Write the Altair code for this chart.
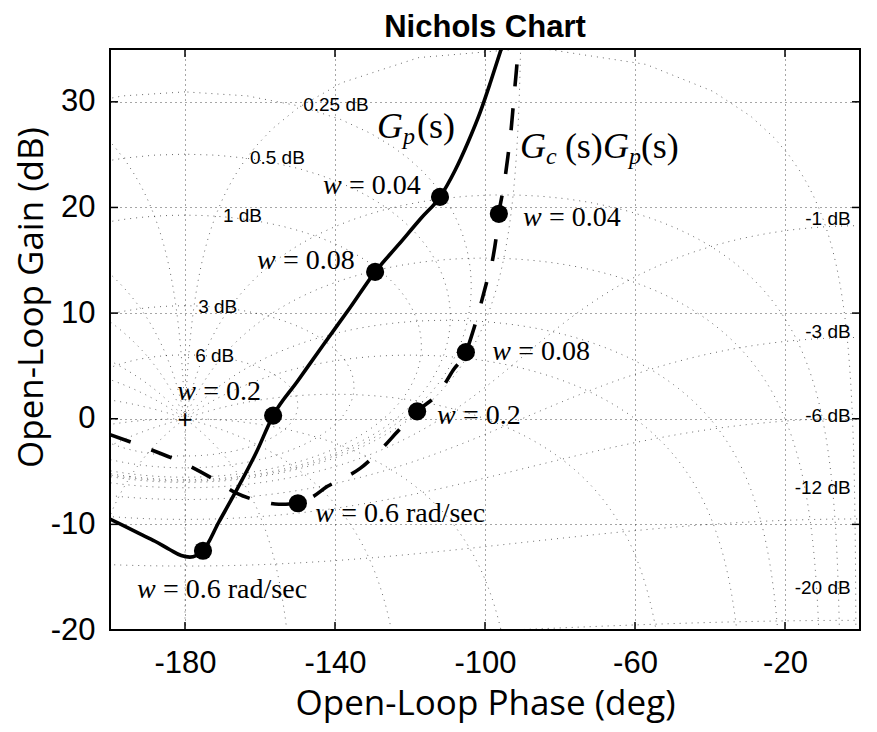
import numpy as np
import pandas as pd
import altair as alt

# ---------------- axes ----------------
X_DOMAIN = [-200, 0]
Y_DOMAIN = [-20, 35]
x_ticks = [-180, -140, -100, -60, -20]
y_ticks = [-20, -10, 0, 10, 20, 30]

# ---------------- open-loop curves ----------------
gp_phase = [-200, -196, -192, -188, -184, -181, -178.7, -175.2, -171, -166, -161, -156.5,
            -150, -143, -136, -129.3, -123, -117, -112, -108, -104.5, -101.3, -98.5, -95.5]
gp_gain = [-9.5, -10.2, -10.9, -11.6, -12.4, -12.95, -13.1, -12.5, -9.8, -6.6, -3.2, 0.3,
           3.55, 7.05, 10.5, 13.9, 16.5, 19.0, 21.0, 23.5, 26.2, 29.0, 31.9, 35.2]

gc_phase = [-200, -190, -178.7, -172, -166, -160, -155, -149.9, -146, -142, -137.5, -133.3,
            -128, -123, -118.1, -112, -108.5, -105.1, -103, -101.3, -99.5, -97.9, -96.9,
            -96.3, -95, -93.9, -93, -92.5, -92, -91.5, -91.2]
gc_gain = [-1.5, -2.8, -4.5, -5.8, -7.1, -7.8, -8.1, -8.0, -7.4, -6.4, -5.6, -4.7,
           -3.0, -1.1, 0.7, 2.6, 4.6, 6.3, 8.5, 10.6, 13.0, 15.2, 17.5,
           19.4, 22.0, 24.8, 27.5, 29.5, 31.5, 33.5, 35.0]

# frequency markers
w_text = ["0.6 rad/sec", "0.2", "0.08", "0.04"]
gp_mark_phase = [-175.2, -156.5, -129.3, -112.0]
gp_mark_gain = [-12.5, 0.3, 13.9, 21.0]
gc_mark_phase = [-149.9, -118.1, -105.1, -96.3]
gc_mark_gain = [-8.0, 0.7, 6.3, 19.4]

# frequency label anchors
gp_lab_phase = [-192.8, -182.1, -160.8, -143.2]
gp_lab_gain = [-16.2, 2.5, 14.9, 22.0]
gc_lab_phase = [-145.3, -112.8, -98.1, -89.9]
gc_lab_gain = [-9.0, 0.3, 6.3, 19.0]

# curve name anchors
gp_name_phase, gp_name_gain = -128.8, 27.6
gc_name_phase, gc_name_gain = -90.7, 25.7

# ---------------- Nichols grid ----------------
m_levels = [6, 3, 1, 0.5, 0.25, 0, -1, -3, -6, -12, -20]
n_levels = [-1, -5, -10, -20, -30, -50, -90, -120, -150, -180,
            -210, -240, -270, -310, -330, -340, -350, -355, -359]

m_lab_left = ["0.25 dB", "0.5 dB", "1 dB", "3 dB", "6 dB"]
m_lab_left_phase = [-148.5, -162.7, -169.9, -176.5, -177.3]
m_lab_left_gain = [29.7, 24.7, 19.2, 10.6, 5.9]
m_lab_right = ["-1 dB", "-3 dB", "-6 dB", "-12 dB", "-20 dB"]
m_lab_right_phase = [-2.5, -2.5, -2.5, -2.5, -2.5]
m_lab_right_gain = [18.9, 8.2, 0.3, -6.6, -16.0]

rows = []
cid = 0
for m in m_levels:
    M = 10 ** (m / 20.0)
    if M > 1:
        th = np.deg2rad(np.linspace(0, 360, 721))
    else:
        th = np.deg2rad(np.linspace(0.05, 359.95, 1400))
    T = M * np.exp(1j * th)
    G = T / (1 - T)
    ph = np.mod(np.degrees(np.angle(G)), 360) - 360
    gn = 20 * np.log10(np.abs(G))
    for k, (p, g) in enumerate(zip(ph, gn)):
        if -45 < g < 45:
            rows.append((cid, k, p, g))
    cid += 1
r = np.logspace(-1.5, 2.5, 900)
for psi in n_levels:
    T = r * np.exp(1j * np.deg2rad(psi))
    G = T / (1 - T)
    ph = np.mod(np.degrees(np.angle(G)), 360) - 360
    gn = 20 * np.log10(np.abs(G))
    for k, (p, g) in enumerate(zip(ph, gn)):
        if -45 < g < 45:
            rows.append((cid, k, p, g))
    cid += 1
grid_df = pd.DataFrame(rows, columns=["cid", "ord", "phase", "gain"])

# ---------------- chart ----------------
W, H = 750, 581
SERIF = "Liberation Serif"
SANS = "Liberation Sans"
xs = alt.Scale(domain=X_DOMAIN, nice=False, zero=False)
ys = alt.Scale(domain=Y_DOMAIN, nice=False, zero=False)

x_axis = alt.Axis(values=x_ticks, grid=True, gridDash=[1, 4], gridColor="black",
                  gridOpacity=0.7, ticks=False, domain=False, labelFont=SANS,
                  labelFontSize=31, labelColor="black", labelPadding=18,
                  labelExpr="'' + datum.value",
                  labelFlush=False, title="Open-Loop Phase (deg)", titleFont="Open Sans",
                  titleFontSize=35, titleFontWeight="normal", titleColor="black",
                  titlePadding=8)
y_axis = alt.Axis(values=y_ticks, grid=True, gridDash=[1, 4], gridColor="black",
                  gridOpacity=0.7, ticks=False, domain=False, labelFont=SANS,
                  labelFontSize=31, labelColor="black", labelPadding=15,
                  labelExpr="'' + datum.value",
                  labelFlush=False, title="Open-Loop Gain (dB)", titleFont="Open Sans",
                  titleFontSize=35, titleFontWeight="normal", titleColor="black",
                  titleX=-79, titleY=248, titleAngle=270, titleBaseline="middle",
                  titleAlign="center")


def X():
    return alt.X("phase:Q", scale=xs, axis=x_axis)


def Y():
    return alt.Y("gain:Q", scale=ys, axis=y_axis)


layers = []

# grid contours
layers.append(
    alt.Chart(grid_df).mark_line(clip=True, color="black", strokeWidth=1,
                                 strokeDash=[1, 5], opacity=0.6)
    .encode(x=X(), y=Y(), detail="cid:N", order="ord:Q")
)

# inward ticks on all four sides
xt = pd.DataFrame({"phase": x_ticks})
yt = pd.DataFrame({"gain": y_ticks})
layers.append(alt.Chart(xt).mark_rule(color="black", strokeWidth=1.5)
              .encode(x=X(), y=alt.value(H), y2=alt.value(H - 8)))
layers.append(alt.Chart(xt).mark_rule(color="black", strokeWidth=1.5)
              .encode(x=X(), y=alt.value(0), y2=alt.value(8)))
layers.append(alt.Chart(yt).mark_rule(color="black", strokeWidth=1.5)
              .encode(y=Y(), x=alt.value(0), x2=alt.value(8)))
layers.append(alt.Chart(yt).mark_rule(color="black", strokeWidth=1.5)
              .encode(y=Y(), x=alt.value(W), x2=alt.value(W - 8)))

# curves
gp_df = pd.DataFrame({"phase": gp_phase, "gain": gp_gain, "ord": range(len(gp_phase))})
gc_df = pd.DataFrame({"phase": gc_phase, "gain": gc_gain, "ord": range(len(gc_phase))})
layers.append(alt.Chart(gp_df).mark_line(clip=True, color="black", strokeWidth=3.6,
                                         interpolate="monotone")
              .encode(x=X(), y=Y(), order="ord:Q"))
layers.append(alt.Chart(gc_df).mark_line(clip=True, color="black", strokeWidth=3.6,
                                         strokeDash=[22, 22], interpolate="monotone")
              .encode(x=X(), y=Y(), order="ord:Q"))

# markers
mk = pd.DataFrame({"phase": gp_mark_phase + gc_mark_phase, "gain": gp_mark_gain + gc_mark_gain})
layers.append(alt.Chart(mk).mark_circle(color="black", opacity=1, size=330)
              .encode(x=X(), y=Y()))

# critical point
layers.append(alt.Chart(pd.DataFrame({"phase": [-180], "gain": [0], "label": ["+"]}))
              .mark_text(font=SANS, fontSize=26, color="black", baseline="middle", dy=1)
              .encode(x=X(), y=Y(), text="label:N"))


def text_layer(df, size, style="normal", font=SERIF, align="left", dx=0, dy=0):
    return (alt.Chart(df)
            .mark_text(font=font, fontSize=size, fontStyle=style, align=align,
                       baseline="middle", dx=dx, dy=dy, color="black")
            .encode(x=X(), y=Y(), text="label:N"))


# frequency labels
wl = pd.DataFrame({"phase": gp_lab_phase + gc_lab_phase, "gain": gp_lab_gain + gc_lab_gain,
                   "value": w_text + w_text})
wl_w = wl.assign(label="w")
wl_v = wl.assign(label="= " + wl["value"])
layers.append(text_layer(wl_w, 28, style="italic"))
layers.append(text_layer(wl_v, 28, dx=26))

# curve names
gp_n = pd.DataFrame({"phase": [gp_name_phase], "gain": [gp_name_gain]})
gc_n = pd.DataFrame({"phase": [gc_name_phase], "gain": [gc_name_gain]})
layers.append(text_layer(gp_n.assign(label="G"), 36, style="italic"))
layers.append(text_layer(gp_n.assign(label="p"), 24, style="italic", dx=26, dy=10))
layers.append(text_layer(gp_n.assign(label="(s)"), 36, dx=40))
layers.append(text_layer(gc_n.assign(label="G"), 36, style="italic"))
layers.append(text_layer(gc_n.assign(label="c"), 24, style="italic", dx=26, dy=10))
layers.append(text_layer(gc_n.assign(label="(s)"), 36, dx=45))
layers.append(text_layer(gc_n.assign(label="G"), 36, style="italic", dx=83))
layers.append(text_layer(gc_n.assign(label="p"), 24, style="italic", dx=109, dy=10))
layers.append(text_layer(gc_n.assign(label="(s)"), 36, dx=121))

# grid labels
ml = pd.DataFrame({"phase": m_lab_left_phase, "gain": m_lab_left_gain, "label": m_lab_left})
mr = pd.DataFrame({"phase": m_lab_right_phase, "gain": m_lab_right_gain, "label": m_lab_right})
layers.append(text_layer(ml, 19, font=SANS))
layers.append(text_layer(mr, 19, font=SANS, align="right"))

chart = (
    alt.layer(*layers)
    .properties(
        width=W, height=H,
        title=alt.TitleParams("Nichols Chart", font=SANS, fontSize=31, fontWeight="bold",
                              color="black", anchor="middle", offset=4),
        padding={"left": 102, "top": 41, "right": 9, "bottom": 94},
        autosize=alt.AutoSizeParams(type="none"),
    )
    .configure_view(stroke="black", strokeWidth=2)
)

chart.save("out.html", embed_options={"renderer": "svg", "actions": False})
